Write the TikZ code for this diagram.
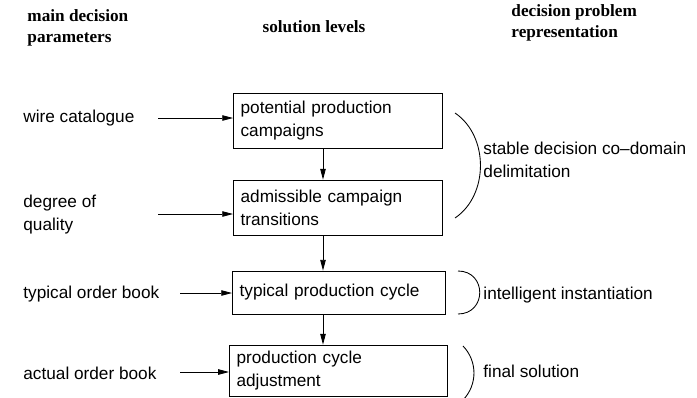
\documentclass[tikz,border=0pt]{standalone}
\usepackage{fontspec}
\setmainfont{Liberation Serif}
\setsansfont{Liberation Sans}
\usetikzlibrary{arrows.meta}

\begin{document}
\begin{tikzpicture}[x=0.0245cm,y=-0.0245cm,line width=0.6pt,
  stage/.style={draw,align=left,inner xsep=5pt,inner ysep=0pt,font=\sffamily\fontsize{12}{16}\selectfont},
  param/.style={anchor=west,align=left,inner sep=0pt,font=\sffamily\fontsize{12}{16}\selectfont},
  head/.style={inner sep=0pt,font=\bfseries\fontsize{12}{14.5}\selectfont},
  feed/.style={-{Triangle[length=7.5pt,width=3.8pt]}}]
\useasboundingbox (0,0) rectangle (697,398);

\node[head,anchor=west,align=left] (hpar) at (27,28) {main decision\\parameters};
\node[head] (hlev) at (314,27) {solution levels};
\node[head,anchor=west,align=left] (hrep) at (511,23) {decision problem\\representation};

\node[stage,text width=135.8pt,minimum height=38.9pt] (camp) at (338,121) {potential production\\campaigns};
\node[stage,text width=135.8pt,minimum height=38.9pt] (trans) at (338,208) {admissible campaign\\transitions};
\node[stage,text width=138.6pt,minimum height=29.9pt] (cycle) at (339,292.5) {typical production cycle};
\node[stage,text width=142.1pt,minimum height=36.1pt] (adj) at (338.5,371) {production cycle\\adjustment};

\node[param] (wire) at (23,118) {wire catalogue};
\node[param] (qual) at (23,215) {degree of\\quality};
\node[param] (typ) at (23,294) {typical order book};
\node[param] (act) at (23,373) {actual order book};

\coordinate (in1) at (158,118);
\coordinate (in2) at (158,214);
\coordinate (in3) at (180,293);
\coordinate (in4) at (180,372);
\draw[feed] (in1) -- (in1 -| camp.west);
\draw[feed] (in2) -- (in2 -| trans.west);
\draw[feed] (in3) -- (in3 -| cycle.west);
\draw[feed] (in4) -- (in4 -| adj.west);

\coordinate (spine) at (323,0);
\draw[feed] (camp.south -| spine) -- (trans.north -| spine);
\draw[feed] (trans.south -| spine) -- (cycle.north -| spine);
\draw[feed] (cycle.south -| spine) -- (adj.north -| spine);

\draw (455,113) to[bend left=56] (455,218);
\draw (458,271) .. controls (487,271) and (487,314) .. (458,314);
\draw (463,346) to[bend left=44] (463,400);

\node[param] (stab) at (483,160) {stable decision co–domain\\delimitation};
\node[param] (inst) at (483,295) {intelligent instantiation};
\node[param] (fin) at (483,371) {final solution};
\end{tikzpicture}
\end{document}
